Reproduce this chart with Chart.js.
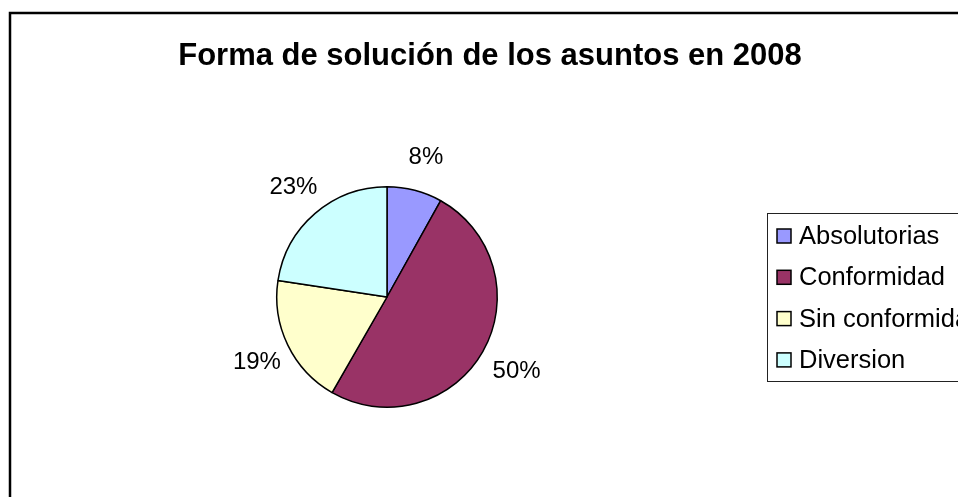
<!DOCTYPE html>
<html>
<head>
<meta charset="utf-8">
<script src="https://cdn.jsdelivr.net/npm/chart.js@4/dist/chart.umd.min.js"></script>
<style>
  html, body { margin: 0; padding: 0; background: #fff; }
  #wrap { width: 958px; height: 497px; }
</style>
</head>
<body>
<div id="wrap"><canvas id="pie" width="958" height="497"></canvas></div>
<script>
'use strict';

const chartTitle = 'Forma de solución de los asuntos en 2008';
const categories = ['Absolutorias', 'Conformidad', 'Sin conformidad', 'Diversion'];
const shares = [8.1, 50.2, 19.1, 22.6];
const sliceColors = ['#9999FF', '#993366', '#FFFFCC', '#CCFFFF'];

const FONT = '"Liberation Sans", Arial, sans-serif';

function percentLabels(values) {
  const total = values.reduce((a, b) => a + b, 0);
  return values.map(v => Math.round(v / total * 100) + '%');
}

const frameAndTitle = {
  id: 'frameAndTitle',
  afterDraw(chart) {
    const ctx = chart.ctx;
    ctx.save();
    ctx.strokeStyle = '#000';
    ctx.lineWidth = 2.5;
    ctx.strokeRect(10, 13, 1000, 1000);

    ctx.fillStyle = '#000';
    ctx.font = 'bold 31px ' + FONT;
    ctx.textAlign = 'center';
    ctx.textBaseline = 'alphabetic';
    ctx.fillText(chartTitle, 490, 65);
    ctx.restore();
  }
};

// percentage labels just outside each slice
const sliceLabels = {
  id: 'sliceLabels',
  afterDatasetsDraw(chart) {
    const ctx = chart.ctx;
    const labels = percentLabels(chart.data.datasets[0].data);
    const meta = chart.getDatasetMeta(0);
    ctx.save();
    ctx.fillStyle = '#000';
    ctx.font = '24px ' + FONT;
    ctx.textAlign = 'center';
    ctx.textBaseline = 'middle';
    meta.data.forEach((arc, i) => {
      const p = arc.getProps(['x', 'y', 'startAngle', 'endAngle', 'outerRadius'], true);
      const mid = (p.startAngle + p.endAngle) / 2;
      const r = p.outerRadius * 1.33;
      ctx.fillText(labels[i], p.x + Math.cos(mid) * r + 2, p.y + Math.sin(mid) * r + 2);
    });
    ctx.restore();
  }
};

const boxLegend = {
  id: 'boxLegend',
  afterDraw(chart) {
    const ctx = chart.ctx;
    const ds = chart.data.datasets[0];
    ctx.save();
    ctx.strokeStyle = '#222';
    ctx.lineWidth = 1;
    ctx.strokeRect(767.5, 213.5, 300, 168);
    ctx.font = '25.5px ' + FONT;
    ctx.textBaseline = 'middle';
    ctx.textAlign = 'left';
    chart.data.labels.forEach((name, i) => {
      const cy = 236 + i * 41.3;
      ctx.fillStyle = ds.backgroundColor[i];
      ctx.fillRect(777, cy - 7, 14, 14);
      ctx.strokeStyle = '#000';
      ctx.lineWidth = 1.5;
      ctx.strokeRect(777, cy - 7, 14, 14);
      ctx.fillStyle = '#000';
      ctx.fillText(name, 799, cy + 1);
    });
    ctx.restore();
  }
};

function onContentLoad() {
  const canvas = document.getElementById('pie');
  new Chart(canvas.getContext('2d'), {
    type: 'pie',
    data: {
      labels: categories,
      datasets: [{
        data: shares,
        backgroundColor: sliceColors,
        borderColor: '#000',
        borderWidth: 1.5,
      }],
    },
    options: {
      responsive: false,
      animation: false,
      layout: {
        padding: { left: 276, right: 460, top: 186, bottom: 89 },
      },
      plugins: {
        legend: { display: false },
        tooltip: { enabled: false },
        title: { display: false },
      },
    },
    plugins: [frameAndTitle, sliceLabels, boxLegend],
  });
}

document.addEventListener('DOMContentLoaded', onContentLoad);
</script>
</body>
</html>
